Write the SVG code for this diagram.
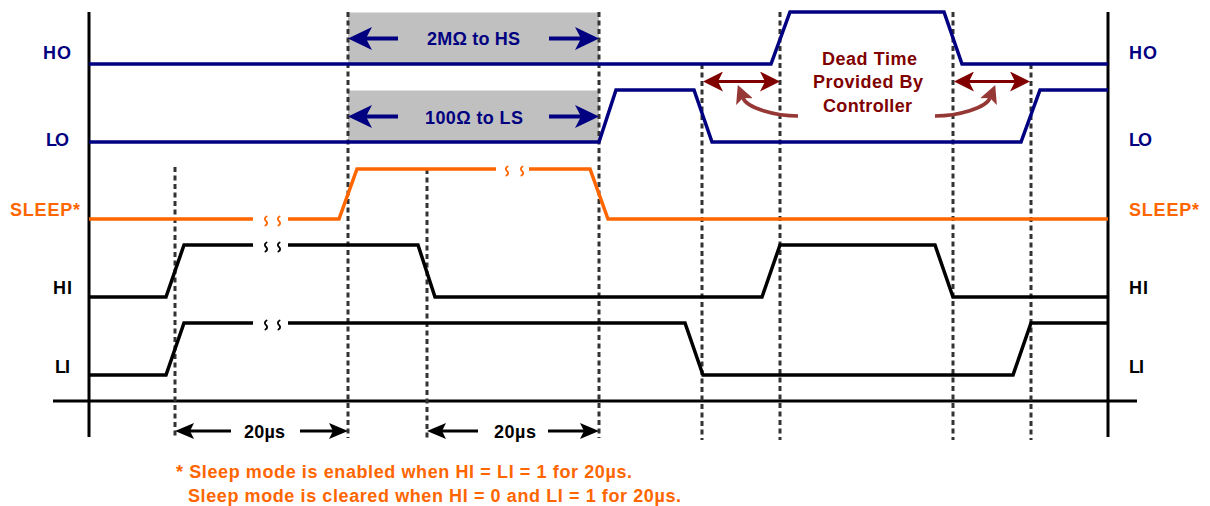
<svg xmlns="http://www.w3.org/2000/svg" width="1210" height="506" viewBox="0 0 1210 506">
<style>
  text { font-family: "Liberation Sans", Arial, sans-serif; font-weight: bold; font-size: 18px; }
  .navy { fill: #000080; }
  .org { fill: #ff6600; }
  .blk { fill: #000000; }
  .dred { fill: #800000; }
  .wave { fill: none; stroke-width: 3.5; stroke-linejoin: miter; }
  .dash { fill: none; stroke: #333333; stroke-width: 3; stroke-dasharray: 5 3.5; }
  .axis { fill: none; stroke: #000; stroke-width: 3; }
  .box { fill: #c0c0c0; }
  .brk { fill: none; stroke-width: 1.8; stroke-linecap: round; }
</style>
<defs>
  <marker id="ahNavy" viewBox="0 0 24 23" refX="6" refY="11.5" markerWidth="24" markerHeight="23" markerUnits="userSpaceOnUse" orient="auto-start-reverse">
    <path d="M0,0 L24,11.5 L0,23 L6,11.5 Z" fill="#000080"/>
  </marker>
  <marker id="ahRed" viewBox="0 0 20 20" refX="5" refY="10" markerWidth="20" markerHeight="20" markerUnits="userSpaceOnUse" orient="auto-start-reverse">
    <path d="M0,0 L20,10 L0,20 L5,10 Z" fill="#800000"/>
  </marker>
  <marker id="ahBrown" viewBox="0 0 18 18" refX="4" refY="9" markerWidth="18" markerHeight="18" markerUnits="userSpaceOnUse" orient="auto">
    <path d="M0,0 L18,9 L0,18 L4,9 Z" fill="#953735"/>
  </marker>
  <marker id="ahBlk" viewBox="0 0 19 16" refX="4" refY="8" markerWidth="19" markerHeight="16" markerUnits="userSpaceOnUse" orient="auto-start-reverse">
    <path d="M0,0 L19,8 L0,16 L4,8 Z" fill="#000"/>
  </marker>
  <path id="sq" d="M0.6,-4.5 C-2.2,-3 -1,-0.8 0,0 C1,0.8 2.2,3 -0.6,4.5"/>
</defs>

<!-- shaded regions -->
<g id="shades">
  <rect class="box" x="348" y="12.5" width="251" height="51.5"/>
  <rect class="box" x="348" y="90.5" width="251" height="51.5"/>
</g>

<!-- axes -->
<g id="axes">
  <line class="axis" x1="89" y1="12" x2="89" y2="437"/>
  <line class="axis" x1="1108" y1="12" x2="1108" y2="437"/>
  <line class="axis" x1="53" y1="401" x2="1137" y2="401"/>
</g>

<!-- dashed time markers -->
<g id="timemarks">
  <line class="dash" x1="175" y1="167" x2="175" y2="438"/>
  <line class="dash" x1="348" y1="12" x2="348" y2="438"/>
  <line class="dash" x1="427" y1="169" x2="427" y2="438"/>
  <line class="dash" x1="599" y1="12" x2="599" y2="438"/>
  <line class="dash" x1="702" y1="64" x2="702" y2="440"/>
  <line class="dash" x1="780" y1="12" x2="780" y2="440"/>
  <line class="dash" x1="953" y1="12" x2="953" y2="440"/>
  <line class="dash" x1="1031" y1="64" x2="1031" y2="440"/>
</g>

<!-- waveforms -->
<g id="ho">
  <path class="wave" stroke="#000080" d="M89,64 H771 L790,12 H944 L962,64 H1108"/>
  <text class="navy" x="43" y="59" textLength="28">HO</text>
  <text class="navy" x="1129" y="59" textLength="28">HO</text>
</g>
<g id="lo">
  <path class="wave" stroke="#000080" d="M89,142 H599 L616,90 H694 L712,142 H1021 L1040,90 H1108"/>
  <text class="navy" x="46" y="146" textLength="23">LO</text>
  <text class="navy" x="1129" y="146" textLength="23">LO</text>
</g>
<g id="sleep">
  <path class="wave" stroke="#ff6600" d="M89,219 H253 M288,219 H339 L357,169 H496 M529,169 H590 L608,219 H1108"/>
  <g class="brk" stroke="#ff6600">
    <use href="#sq" x="266" y="221"/>
    <use href="#sq" x="279" y="221"/>
    <use href="#sq" x="507" y="171"/>
    <use href="#sq" x="522" y="171"/>
  </g>
  <text class="org" x="10" y="216" textLength="70">SLEEP*</text>
  <text class="org" x="1129" y="216" textLength="70">SLEEP*</text>
</g>
<g id="hi">
  <path class="wave" stroke="#000" d="M89,297 H166 L184,245 H253 M288,245 H418 L435,297 H762 L780,245 H935 L953,297 H1108"/>
  <g class="brk" stroke="#000">
    <use href="#sq" x="266" y="247"/>
    <use href="#sq" x="279" y="247"/>
  </g>
  <text class="blk" x="53" y="294" textLength="19">HI</text>
  <text class="blk" x="1129" y="294" textLength="19">HI</text>
</g>
<g id="li">
  <path class="wave" stroke="#000" d="M89,375 H166 L184,323 H253 M288,323 H685 L703,375 H1013 L1031,323 H1108"/>
  <g class="brk" stroke="#000">
    <use href="#sq" x="266" y="325"/>
    <use href="#sq" x="279" y="325"/>
  </g>
  <text class="blk" x="55" y="373" textLength="15">LI</text>
  <text class="blk" x="1129" y="373" textLength="15">LI</text>
</g>

<!-- annotation texts -->
<g id="hs-label">
  <text class="navy" x="427" y="45" textLength="93">2MΩ to HS</text>
</g>
<g id="ls-label">
  <text class="navy" x="425" y="124" textLength="98">100Ω to LS</text>
</g>
<g id="deadtime-label">
  <text class="dred" x="822" y="65" textLength="95">Dead Time</text>
  <text class="dred" x="813" y="88" textLength="110">Provided By</text>
  <text class="dred" x="823" y="111.5" textLength="89">Controller</text>
</g>
<g id="t20-labels">
  <text class="blk" x="244" y="438" textLength="41">20µs</text>
  <text class="blk" x="494" y="438" textLength="42">20µs</text>
</g>
<g id="footnote">
  <text class="org" x="176" y="478" textLength="456">* Sleep mode is enabled when HI = LI = 1 for 20µs.</text>
  <text class="org" x="188" y="502" textLength="493">Sleep mode is cleared when HI = 0 and LI = 1 for 20µs.</text>
</g>

<!-- connectors / arrows -->
<g id="connectors">
  <line x1="398" y1="38.5" x2="366" y2="38.5" stroke="#000080" stroke-width="4" marker-end="url(#ahNavy)"/>
  <line x1="549" y1="38.5" x2="581" y2="38.5" stroke="#000080" stroke-width="4" marker-end="url(#ahNavy)"/>
  <line x1="398" y1="116.5" x2="366" y2="116.5" stroke="#000080" stroke-width="4" marker-end="url(#ahNavy)"/>
  <line x1="549" y1="116.5" x2="581" y2="116.5" stroke="#000080" stroke-width="4" marker-end="url(#ahNavy)"/>

  <line x1="718" y1="81.5" x2="765" y2="81.5" stroke="#800000" stroke-width="3.2" marker-start="url(#ahRed)" marker-end="url(#ahRed)"/>
  <line x1="969" y1="81.5" x2="1015" y2="81.5" stroke="#800000" stroke-width="3.2" marker-start="url(#ahRed)" marker-end="url(#ahRed)"/>

  <path d="M798,116 C775,116 747,108 743,98" fill="none" stroke="#953735" stroke-width="3.5" marker-end="url(#ahBrown)"/>
  <path d="M935,116 C958,116 986,108 990,98" fill="none" stroke="#953735" stroke-width="3.5" marker-end="url(#ahBrown)"/>

  <line x1="231" y1="431" x2="190" y2="431" stroke="#000" stroke-width="3" marker-end="url(#ahBlk)"/>
  <line x1="300" y1="431" x2="333" y2="431" stroke="#000" stroke-width="3" marker-end="url(#ahBlk)"/>
  <line x1="478" y1="431" x2="442" y2="431" stroke="#000" stroke-width="3" marker-end="url(#ahBlk)"/>
  <line x1="548" y1="431" x2="584" y2="431" stroke="#000" stroke-width="3" marker-end="url(#ahBlk)"/>
</g>
</svg>
